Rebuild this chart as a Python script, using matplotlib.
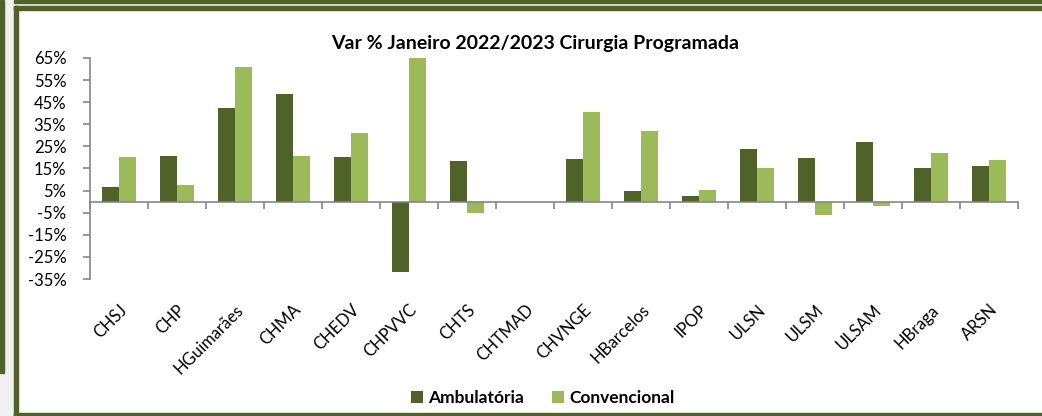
import numpy as np
import matplotlib.pyplot as plt
from matplotlib.patches import Rectangle
from matplotlib.ticker import FixedLocator, FuncFormatter

plt.rcParams['font.family'] = ['Lato', 'DejaVu Sans']

categories = ["CHSJ", "CHP", "HGuimarães", "CHMA", "CHEDV", "CHPVVC", "CHTS", "CHTMAD",
              "CHVNGE", "HBarcelos", "IPOP", "ULSN", "ULSM", "ULSAM", "HBraga", "ARSN"]
ambulatoria = [6.8, 20.8, 42.3, 48.9, 20.1, -31.7, 18.6, 0.0,
               19.2, 4.7, 2.7, 23.8, 19.6, 26.9, 15.1, 16.3]
convencional = [20.2, 7.6, 60.8, 20.7, 31.1, 65.0, -5.0, 0.0,
                40.4, 32.0, 5.2, 15.4, -6.0, -1.8, 22.2, 19.0]
yticks = [-35, -25, -15, -5, 5, 15, 25, 35, 45, 55, 65]

dark = "#4F6228"
light = "#9BBB59"
axis_gray = "#868686"

fig = plt.figure(figsize=(10.42, 4.16), dpi=100)
W, H = 1042, 416

# frame around the chart (dark olive lines on grey background)
def px_rect(x0, y0, x1, y1, color):
    fig.patches.append(Rectangle((x0 / W, 1 - y1 / H), (x1 - x0) / W, (y1 - y0) / H,
                                 transform=fig.transFigure, color=color, zorder=-10))

px_rect(0, 0, W, H, "#f0f0f0")
px_rect(18, 10, W, 413, "white")
px_rect(14, 0, W, 3, dark)
px_rect(0, 0, 4, 373, dark)
px_rect(14, 6, W, 10, dark)
px_rect(14, 6, 18, H, dark)
px_rect(14, 413, W, H, dark)

ax = fig.add_axes([90 / W, 1 - 279 / H, 928 / W, 221 / H])
ax.set_facecolor("none")
ax.set_zorder(5)

x = np.arange(len(categories))
bw = 0.285
ax.bar(x - bw / 2, ambulatoria, bw, color=dark, linewidth=0,
       label="Ambulatória", zorder=2)
ax.bar(x + bw / 2, convencional, bw, color=light, linewidth=0,
       label="Convencional", zorder=2)

ax.set_xlim(-0.5, len(categories) - 0.5)
ax.set_ylim(-35, 65)
ax.set_yticks(yticks)
ax.yaxis.set_major_formatter(FuncFormatter(lambda v, p: f"{v:.0f}%"))

for s in ["top", "right"]:
    ax.spines[s].set_visible(False)
ax.spines["left"].set_color(axis_gray)
ax.spines["left"].set_linewidth(1.2)
ax.spines["bottom"].set_position(("data", 0))
ax.spines["bottom"].set_color(axis_gray)
ax.spines["bottom"].set_linewidth(1.2)
ax.spines["bottom"].set_zorder(3)

ax.tick_params(axis="y", length=5, width=1.2, color=axis_gray, labelsize=12,
               pad=12, labelcolor="black")
ax.set_xticks(x)
ax.set_xticklabels(categories, rotation=45, ha="right", rotation_mode="anchor",
                   fontsize=12)
ax.tick_params(axis="x", which="major", length=0, pad=72)
ax.xaxis.set_minor_locator(FixedLocator(np.arange(len(categories) + 1) - 0.5))
ax.tick_params(axis="x", which="minor", length=5, width=1.2, color=axis_gray)

fig.text(535 / W, 1 - 43 / H, "Var % Janeiro 2022/2023 Cirurgia Programada",
         ha="center", va="center", fontsize=14, fontweight="bold")

leg = fig.legend(loc="center", bbox_to_anchor=(543 / W, 1 - 398 / H), ncol=2,
                 frameon=False, prop={"family": "Lato", "weight": "bold", "size": 12.5},
                 handlelength=0.7, handleheight=0.7, handletextpad=0.3,
                 columnspacing=1.6)

fig.savefig("out.png", dpi=100)
